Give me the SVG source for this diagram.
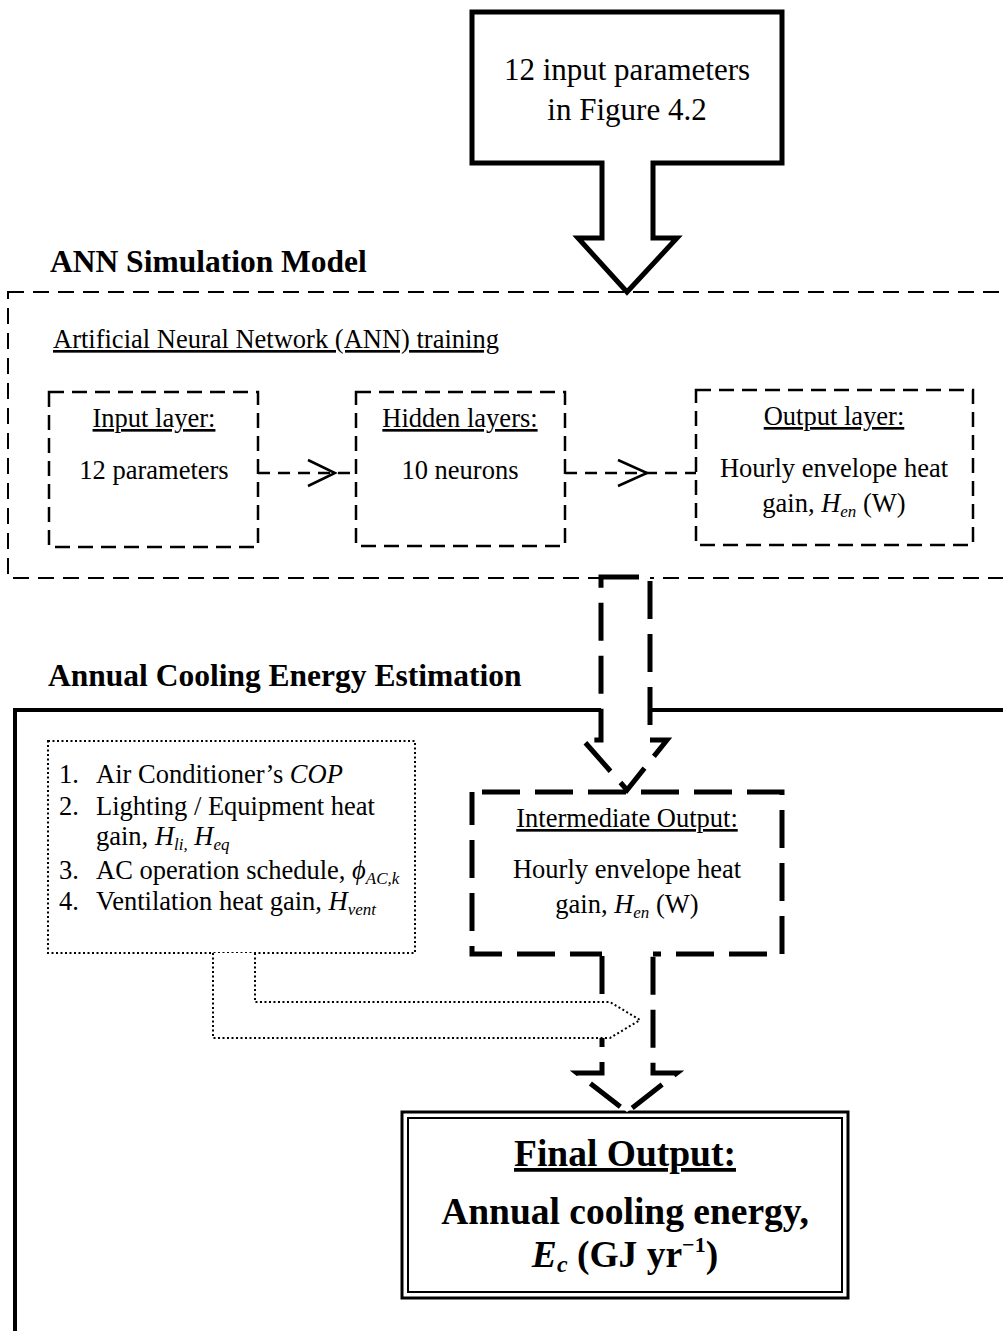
<svg xmlns="http://www.w3.org/2000/svg" width="1003" height="1331" viewBox="0 0 1003 1331">
  <style>
    text { font-family: "Liberation Serif", "Times New Roman", serif; fill: #000; }
    .body { font-size: 26.5px; }
    .big { font-size: 31px; }
    .head { font-size: 31.5px; font-weight: bold; }
    .fin { font-size: 37.5px; font-weight: bold; }
    .ul { text-decoration: underline; }
    .it { font-style: italic; }
    .mid { text-anchor: middle; }
    .frame-dash { fill: none; stroke: #000; stroke-width: 2; stroke-dasharray: 16 9; }
    .layer { fill: #fff; stroke: #000; stroke-width: 2.5; stroke-dasharray: 15 8; }
    .link { fill: none; stroke: #000; stroke-width: 2.5; stroke-dasharray: 12 8; }
    .head-open { fill: none; stroke: #000; stroke-width: 2.5; }
    .thick-dash { stroke: #000; stroke-width: 5; stroke-dasharray: 38 15; }
    .dotted { stroke: #000; stroke-width: 2; stroke-dasharray: 2 2.5; }
    .solid { fill: none; stroke: #000; stroke-width: 4; }
  </style>

  <rect width="1003" height="1331" fill="#fff"/>

  <!-- section headings -->
  <text class="head" x="50" y="272">ANN Simulation Model</text>
  <text class="head" x="48" y="686">Annual Cooling Energy Estimation</text>

  <!-- ANN frame (runs off the right edge) -->
  <g id="ann-frame">
    <rect class="frame-dash" x="8" y="292" width="1030" height="286"/>
    <text class="body ul" x="53" y="348">Artificial Neural Network (ANN) training</text>
  </g>

  <!-- cooling estimation frame (runs off right and bottom edges) -->
  <g id="cooling-frame">
    <rect class="solid" x="15" y="710" width="1030" height="660"/>
  </g>

  <g id="input-params">
    <path d="M472,12 H782 V163 H653 V238 H677 L627,292 L578,238 H602 V163 H472 Z" fill="#fff" stroke="#000" stroke-width="5" stroke-linejoin="miter"/>
    <text class="big mid" x="627" y="80">12 input parameters</text>
    <text class="big mid" x="627" y="120">in Figure 4.2</text>
  </g>

  <g id="input-layer">
    <rect class="layer" x="49" y="392" width="209" height="155"/>
    <text class="body mid ul" x="154" y="427">Input layer:</text>
    <text class="body mid" x="154" y="479">12 parameters</text>
  </g>

  <g id="hidden-layers">
    <rect class="layer" x="356" y="392" width="209" height="154"/>
    <text class="body mid ul" x="460" y="427">Hidden layers:</text>
    <text class="body mid" x="460" y="479">10 neurons</text>
  </g>

  <g id="output-layer">
    <rect class="layer" x="696" y="390" width="277" height="155"/>
    <text class="body mid ul" x="834" y="425">Output layer:</text>
    <text class="body mid" x="834" y="477">Hourly envelope heat</text>
    <text class="body mid" x="834" y="512">gain, <tspan class="it">H</tspan><tspan class="it" font-size="17" dy="5">en</tspan><tspan dy="-5"> (W)</tspan></text>
  </g>

  <g id="parameter-list">
    <rect x="48" y="741" width="367" height="212" fill="#fff" class="dotted"/>
    <text class="body" x="59" y="783">1.</text>
    <text class="body" x="96" y="783">Air Conditioner’s <tspan class="it">COP</tspan></text>
    <text class="body" x="59" y="815">2.</text>
    <text class="body" x="96" y="815">Lighting / Equipment heat</text>
    <text class="body" x="96" y="845">gain, <tspan class="it">H</tspan><tspan class="it" font-size="17" dy="5">li,</tspan><tspan class="it" dy="-5"> H</tspan><tspan class="it" font-size="17" dy="5">eq</tspan></text>
    <text class="body" x="59" y="879">3.</text>
    <text class="body" x="96" y="879">AC operation schedule, <tspan class="it">ϕ</tspan><tspan class="it" font-size="17" dy="5">AC,k</tspan></text>
    <text class="body" x="59" y="910">4.</text>
    <text class="body" x="96" y="910">Ventilation heat gain, <tspan class="it">H</tspan><tspan class="it" font-size="17" dy="5">vent</tspan></text>
  </g>

  <g id="intermediate-output">
    <rect x="472" y="792" width="310" height="162" fill="#fff" class="thick-dash" stroke-dashoffset="-10"/>
    <text class="body mid ul" x="627" y="827">Intermediate Output:</text>
    <text class="body mid" x="627" y="878">Hourly envelope heat</text>
    <text class="body mid" x="627" y="913">gain, <tspan class="it">H</tspan><tspan class="it" font-size="17" dy="5">en</tspan><tspan dy="-5"> (W)</tspan></text>
  </g>

  <g id="final-output">
    <rect x="402" y="1112" width="446" height="186" fill="#fff" stroke="#000" stroke-width="3"/>
    <rect x="408" y="1118" width="434" height="174" fill="none" stroke="#000" stroke-width="2"/>
    <text class="fin mid ul" x="625" y="1166">Final Output:</text>
    <text class="fin mid" x="625" y="1224">Annual cooling energy,</text>
    <text class="fin mid" x="625" y="1267"><tspan class="it">E</tspan><tspan class="it" font-size="24" dy="5">c</tspan><tspan dy="-5"> (GJ yr</tspan><tspan font-size="22" dy="-15">−1</tspan><tspan dy="15">)</tspan></text>
  </g>

  <g id="connectors">
    <!-- input layer to hidden layers -->
    <line class="link" x1="258" y1="473" x2="356" y2="473"/>
    <polyline class="head-open" points="308,460 335,473 308,486"/>
    <!-- hidden layers to output layer -->
    <line class="link" x1="565" y1="473" x2="696" y2="473"/>
    <polyline class="head-open" points="618,460 647,473 618,486"/>
    <!-- ANN result to intermediate output -->
    <path d="M601,577 H650 V740 H667 L627,790 L583,740 H601 Z" fill="#fff" class="thick-dash"/>
    <!-- intermediate output to final output -->
    <path d="M602,951 V1073 H577 L627,1112 L677,1073 H653 V951 Z" fill="#fff" stroke="none"/>
    <path d="M602,956 V1073 H577 L627,1112 L677,1073 H653 V956" fill="none" class="thick-dash"/>
    <!-- parameter list joins the intermediate result -->
    <path d="M213,953 V1038 H610 L640,1020 L610,1002 H255 V953" fill="#fff" class="dotted"/>
  </g>
</svg>
